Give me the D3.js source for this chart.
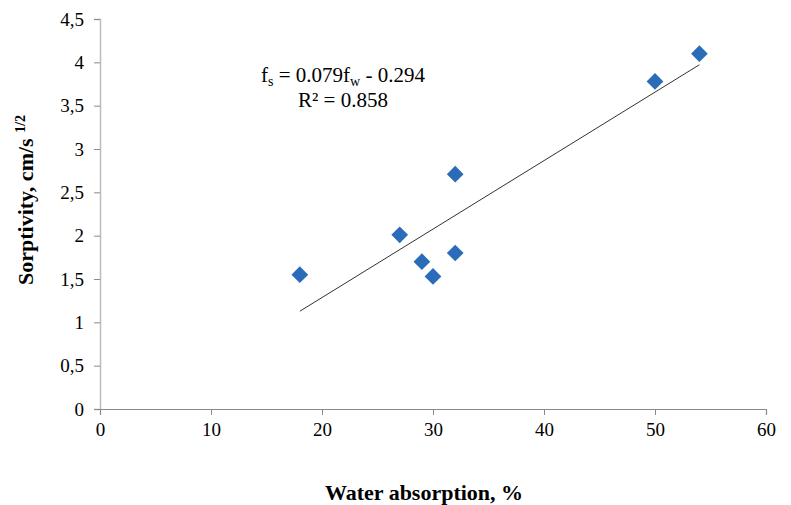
<!DOCTYPE html>
<html>
<head>
<meta charset="utf-8">
<script src="https://cdn.jsdelivr.net/npm/d3@7/dist/d3.min.js"></script>
<style>
  html, body { margin: 0; padding: 0; background: #fff; }
  svg { display: block; }
</style>
</head>
<body>
<svg id="chart" width="791" height="505" font-family="Liberation Serif"></svg>
<script>
// Measured water absorption (%) and sorptivity (cm/s^1/2)
const waterAbsorption = [18, 27, 29, 30, 32, 32, 50, 54];
const sorptivity      = [1.55, 2.01, 1.70, 1.53, 1.80, 2.71, 3.78, 4.10];

// Linear fit reported on the chart
const fitSlope = 0.079;
const fitIntercept = -0.294;
const fitR2 = 0.858;

const xTicks = [0, 10, 20, 30, 40, 50, 60];
const yTicks = [0, 0.5, 1, 1.5, 2, 2.5, 3, 3.5, 4, 4.5];

const FONT = "Liberation Serif";
const svg = d3.select("#chart");
const margin = { left: 100, right: 25, top: 19, bottom: 96 };
const W = 791, H = 505;

const x = d3.scaleLinear().domain([0, 60]).range([margin.left, W - margin.right]);
const y = d3.scaleLinear().domain([0, 4.5]).range([H - margin.bottom, margin.top]);

const commaFmt = v => String(v).replace(".", ",");

// Y axis
const yAxis = svg.append("g")
  .attr("transform", `translate(${margin.left},0)`)
  .call(d3.axisLeft(y).tickValues(yTicks).tickSize(6).tickPadding(10).tickFormat(commaFmt));
yAxis.attr("font-family", FONT).attr("font-size", 19);
yAxis.select(".domain").attr("stroke", "#bdbdbd").attr("stroke-width", 1.5);
yAxis.selectAll(".tick line").attr("stroke", "#8a8a8a");
yAxis.selectAll(".tick text").attr("fill", "#000").attr("font-family", FONT);

// X axis
const xAxis = svg.append("g")
  .attr("transform", `translate(0,${y(0)})`)
  .call(d3.axisBottom(x).tickValues(xTicks).tickSize(6).tickPadding(8));
xAxis.attr("font-family", FONT).attr("font-size", 19);
xAxis.select(".domain").attr("stroke", "#8a8a8a").attr("stroke-width", 1.2);
xAxis.selectAll(".tick line").attr("stroke", "#8a8a8a");
xAxis.selectAll(".tick text").attr("fill", "#000").attr("font-family", FONT);

// Trend line over the measured range
const xMin = d3.min(waterAbsorption), xMax = d3.max(waterAbsorption);
svg.append("line")
  .attr("x1", x(xMin)).attr("y1", y(fitSlope * xMin + fitIntercept))
  .attr("x2", x(xMax)).attr("y2", y(fitSlope * xMax + fitIntercept))
  .attr("stroke", "#333").attr("stroke-width", 1);

// Diamond markers
const diamond = d3.symbol().type(d3.symbolSquare).size(140);
svg.append("g").selectAll("path")
  .data(waterAbsorption.map((v, i) => [v, sorptivity[i]]))
  .join("path")
  .attr("d", diamond)
  .attr("transform", d => `translate(${x(d[0])},${y(d[1])}) rotate(45)`)
  .attr("fill", "#2b6cb8");

// Regression equation
const eq = svg.append("text").attr("x", 343).attr("y", 82)
  .attr("font-family", FONT)
  .attr("text-anchor", "middle").attr("font-size", 21).attr("fill", "#000");
eq.append("tspan").text("f");
eq.append("tspan").attr("font-size", 14).attr("dy", 4).text("s");
eq.append("tspan").attr("dy", -4).text(` = ${fitSlope}f`);
eq.append("tspan").attr("font-size", 14).attr("dy", 4).text("w");
eq.append("tspan").attr("dy", -4).text(` - ${Math.abs(fitIntercept)}`);

svg.append("text").attr("x", 343).attr("y", 107)
  .attr("font-family", FONT)
  .attr("text-anchor", "middle").attr("font-size", 21).attr("fill", "#000")
  .text(`R² = ${fitR2}`);

// Axis titles
svg.append("text")
  .attr("x", 424).attr("y", 500)
  .attr("font-family", FONT)
  .attr("text-anchor", "middle").attr("font-size", 22).attr("font-weight", "bold")
  .text("Water absorption, %");

const yt = svg.append("text")
  .attr("transform", `translate(33,200) rotate(-90)`)
  .attr("font-family", FONT)
  .attr("text-anchor", "middle").attr("font-size", 22).attr("font-weight", "bold");
yt.append("tspan").text("Sorptivity, cm/s ");
yt.append("tspan").attr("font-size", 14).attr("dy", -8).text("1/2");
</script>
</body>
</html>
